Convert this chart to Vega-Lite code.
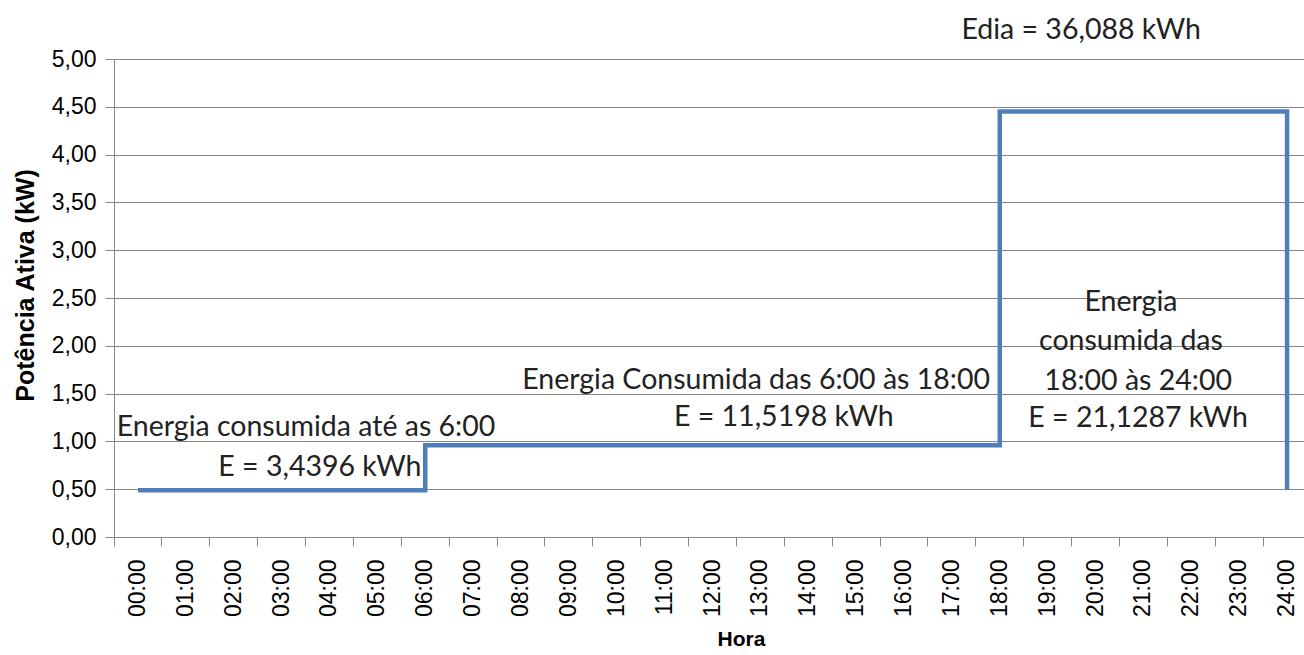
{
  "$schema": "https://vega.github.io/schema/vega-lite/v6.json",
  "autosize": {"type": "none"},
  "width": 1197,
  "height": 478,
  "padding": {"left": 114, "top": 59, "right": 0, "bottom": 118},
  "background": "white",
  "config": {"view": {"stroke": null}},
  "datasets": {
    "potencia": [
      {"hora": "00:00", "kw": 0.49, "ordem": 1},
      {"hora": "06:00", "kw": 0.49, "ordem": 2},
      {"hora": "06:00", "kw": 0.96, "ordem": 3},
      {"hora": "18:00", "kw": 0.96, "ordem": 4},
      {"hora": "18:00", "kw": 4.45, "ordem": 5},
      {"hora": "24:00", "kw": 4.45, "ordem": 6},
      {"hora": "24:00", "kw": 0.5, "ordem": 7}
    ],
    "notas": [
      {"h": 3.51, "kw": 1.15, "texto": "Energia consumida até as 6:00"},
      {"h": 3.8, "kw": 0.73, "texto": "E = 3,4396 kWh"},
      {"h": 12.91, "kw": 1.64, "texto": "Energia Consumida das 6:00 às 18:00"},
      {"h": 13.49, "kw": 1.255, "texto": "E = 11,5198 kWh"},
      {"h": 20.74, "kw": 2.46, "texto": "Energia"},
      {"h": 20.74, "kw": 2.05, "texto": "consumida das"},
      {"h": 20.89, "kw": 1.63, "texto": "18:00 às 24:00"},
      {"h": 20.89, "kw": 1.245, "texto": "E = 21,1287 kWh"},
      {"h": 19.7, "kw": 5.3, "texto": "Edia = 36,088 kWh"}
    ]
  },
  "layer": [
    {
      "data": {"name": "potencia"},
      "mark": {"type": "line", "color": "#4F7FBA", "strokeWidth": 4.5, "strokeCap": "butt", "strokeJoin": "miter"},
      "encoding": {
        "x": {
          "field": "hora", "type": "ordinal",
          "scale": {"type": "band", "paddingInner": 0, "paddingOuter": 0,
            "domain": ["00:00","01:00","02:00","03:00","04:00","05:00","06:00","07:00","08:00","09:00","10:00","11:00","12:00","13:00","14:00","15:00","16:00","17:00","18:00","19:00","20:00","21:00","22:00","23:00","24:00"]},
          "axis": {
            "title": "Hora", "titleFont": "Liberation Sans", "titleFontSize": 21, "titleFontWeight": "bold", "titleColor": "#000", "titlePadding": 12, "titleX": 627,
            "labelAngle": -90, "labelFont": "Liberation Sans", "labelFontSize": 23, "labelColor": "#000",
            "bandPosition": 0, "labelPadding": 13,
            "tickSize": 9, "tickColor": "#868686", "domainColor": "#868686", "grid": false
          }
        },
        "y": {
          "field": "kw", "type": "quantitative",
          "scale": {"domain": [0, 5], "nice": false},
          "axis": {
            "title": "Potência Ativa (kW)", "titleFont": "Liberation Sans", "titleFontSize": 25, "titleFontWeight": "bold", "titleColor": "#000", "titlePadding": 13, "titleY": 226,
            "values": [0, 0.5, 1, 1.5, 2, 2.5, 3, 3.5, 4, 4.5, 5],
            "labelExpr": "replace(format(datum.value, '.2f'), '.', ',')",
            "labelFont": "Liberation Sans", "labelFontSize": 23, "labelColor": "#000", "labelPadding": 9,
            "tickSize": 9, "tickColor": "#868686", "domainColor": "#868686",
            "grid": true, "gridColor": "#868686", "gridWidth": 1
          }
        },
        "order": {"field": "ordem", "type": "quantitative"}
      }
    },
    {
      "data": {"name": "notas"},
      "mark": {"type": "text", "font": "Lato", "fontSize": 28.5, "color": "#222", "align": "center", "baseline": "middle"},
      "encoding": {
        "x": {"field": "h", "type": "quantitative", "scale": {"domain": [-0.5, 24.5], "nice": false, "zero": false}, "axis": null},
        "y": {"field": "kw", "type": "quantitative"},
        "text": {"field": "texto"}
      }
    }
  ],
  "resolve": {"scale": {"x": "independent"}}
}
